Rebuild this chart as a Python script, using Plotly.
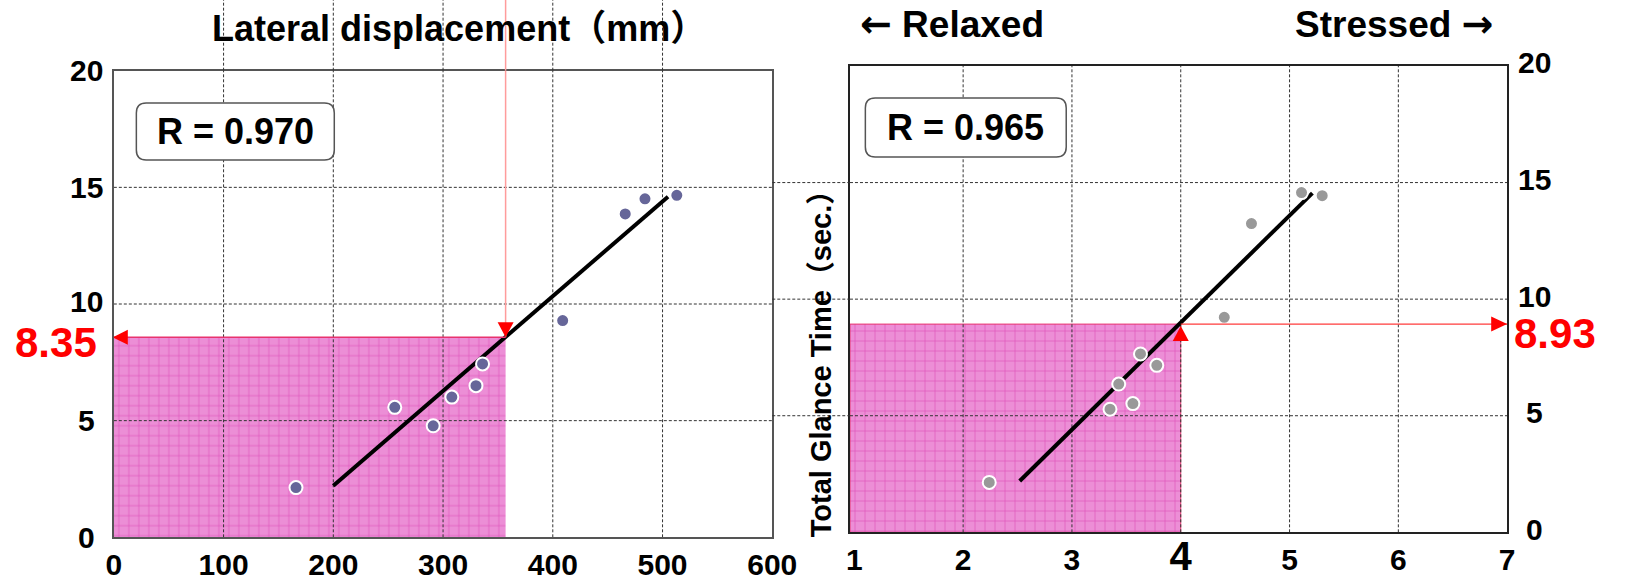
import plotly.graph_objects as go

W, H = 1637, 583

# ---------------- data ----------------
# left panel: lateral displacement vs total glance time
lat_disp = [166, 256, 291, 308, 330, 336, 409, 466, 484, 513]
lat_glance = [2.13, 5.57, 4.78, 6.01, 6.50, 7.43, 9.29, 13.86, 14.51, 14.66]
lat_fit_x = [200, 505]
lat_fit_y = [2.21, 14.60]
lat_thr_x = 357
lat_thr_y = 8.57
lat_thr_label = "8.35"
lat_r = "R = 0.970"

# right panel: stress rating vs total glance time
stress = [2.24, 3.35, 3.43, 3.56, 3.63, 3.78, 4.40, 4.65, 5.11, 5.30]
stress_glance = [2.14, 5.28, 6.36, 5.52, 7.65, 7.16, 9.22, 13.24, 14.57, 14.44]
stress_fit_x = [2.52, 5.21]
stress_fit_y = [2.20, 14.55]
stress_thr_x = 4
stress_thr_y = 8.93
stress_thr_label = "8.93"
stress_r = "R = 0.965"

lat_xticks = [0, 100, 200, 300, 400, 500, 600]
stress_xticks = [1, 2, 3, 4, 5, 6, 7]
y_ticks = [0, 5, 10, 15, 20]
lat_grid_x = [100, 200, 300, 400, 500]
stress_grid_x = [2, 3, 4, 5, 6]
grid_y = [5, 10, 15]

title_left = "Lateral displacement（mm）"
label_relaxed = ("←", "Relaxed")
label_stressed = ("Stressed", "→")
y_title = "Total Glance Time（sec.）"

# ---------------- helpers ----------------
FONT = "Liberation Sans, Arial, Noto Sans CJK JP, sans-serif"
ARROW_SPAN = '<span style="font-family:DejaVu Sans;font-size:38px">{}</span>'


def px(x):
    return x / W


def py(y):
    return 1 - y / H


def rounded_rect(x0, y0, x1, y1, r):
    pts = [
        ("M", [(x0 + r, y0)]), ("L", [(x1 - r, y0)]), ("Q", [(x1, y0), (x1, y0 + r)]),
        ("L", [(x1, y1 - r)]), ("Q", [(x1, y1), (x1 - r, y1)]), ("L", [(x0 + r, y1)]),
        ("Q", [(x0, y1), (x0, y1 - r)]), ("L", [(x0, y0 + r)]), ("Q", [(x0, y0), (x0 + r, y0)]),
    ]
    s = ""
    for cmd, ps in pts:
        s += cmd + " " + " ".join(f"{px(a):.5f},{py(b):.5f}" for a, b in ps) + " "
    return s + "Z"


def seg_lines(vals, lo, hi, vertical):
    xs, ys = [], []
    for v in vals:
        if vertical:
            xs += [v, v, None]
            ys += [lo, hi, None]
        else:
            xs += [lo, hi, None]
            ys += [v, v, None]
    return xs, ys


L_dom_x = [px(108), px(780)]
L_dom_y = [py(537.3), py(70.7)]
R_dom_x = [px(859.3), px(1530)]
R_dom_y = [py(532.3), py(66)]

GRID = dict(color="#333333", width=1, dash="3px,2px")
PINK_BG = "#ec8ed6"
PINK_FG = "#d0129c"

fig = go.Figure()

# ---------- left panel ----------
fig.add_trace(go.Scatter(
    x=[0, lat_thr_x, lat_thr_x, 0, 0], y=[0, 0, lat_thr_y, lat_thr_y, 0],
    fill="toself", mode="lines", line=dict(width=0), fillcolor=PINK_BG,
    fillpattern=dict(shape="+", fgcolor=PINK_FG, bgcolor=PINK_BG, size=10, solidity=0.12),
    xaxis="x", yaxis="y", hoverinfo="skip", showlegend=False))
gx, gy = seg_lines(lat_grid_x, 0, 20, True)
fig.add_trace(go.Scatter(x=gx, y=gy, mode="lines", line=GRID, xaxis="x", yaxis="y",
                         hoverinfo="skip", showlegend=False))
gx, gy = seg_lines(grid_y, 0, 600, False)
fig.add_trace(go.Scatter(x=gx, y=gy, mode="lines", line=GRID, xaxis="x", yaxis="y",
                         hoverinfo="skip", showlegend=False))
fig.add_trace(go.Scatter(x=lat_fit_x, y=lat_fit_y, mode="lines",
                         line=dict(color="black", width=4), xaxis="x", yaxis="y",
                         showlegend=False))
fig.add_trace(go.Scatter(x=lat_disp, y=lat_glance, mode="markers",
                         marker=dict(size=13, color="#666699", line=dict(color="white", width=2)),
                         xaxis="x", yaxis="y", showlegend=False))

# ---------- right panel ----------
fig.add_trace(go.Scatter(
    x=[0.96, stress_thr_x, stress_thr_x, 0.96, 0.96], y=[0, 0, stress_thr_y, stress_thr_y, 0],
    fill="toself", mode="lines", line=dict(width=1, color="#e8336e"), fillcolor=PINK_BG,
    fillpattern=dict(shape="+", fgcolor=PINK_FG, bgcolor=PINK_BG, size=10, solidity=0.12),
    xaxis="x2", yaxis="y2", hoverinfo="skip", showlegend=False))
gx, gy = seg_lines(stress_grid_x, 0, 20, True)
fig.add_trace(go.Scatter(x=gx, y=gy, mode="lines", line=GRID, xaxis="x2", yaxis="y2",
                         hoverinfo="skip", showlegend=False))
gx, gy = seg_lines(grid_y, 0.96, 7, False)
fig.add_trace(go.Scatter(x=gx, y=gy, mode="lines", line=GRID, xaxis="x2", yaxis="y2",
                         hoverinfo="skip", showlegend=False))
fig.add_trace(go.Scatter(x=stress_fit_x, y=stress_fit_y, mode="lines",
                         line=dict(color="black", width=4), xaxis="x2", yaxis="y2",
                         showlegend=False))
fig.add_trace(go.Scatter(x=stress, y=stress_glance, mode="markers",
                         marker=dict(size=13, color="#999999", line=dict(color="white", width=2)),
                         xaxis="x2", yaxis="y2", showlegend=False))

# ---------- shapes ----------
shapes = []
for g in lat_grid_x:  # left grid lines run up to the page top
    shapes.append(dict(type="line", xref="x", yref="paper", x0=g, x1=g, y0=L_dom_y[1], y1=1,
                       line=GRID, layer="above"))
for g in grid_y:  # right horizontal grid lines run left across the gap
    shapes.append(dict(type="line", xref="paper", yref="y2", x0=L_dom_x[1], x1=R_dom_x[0],
                       y0=g, y1=g, line=GRID, layer="above"))
# left red guides
shapes.append(dict(type="line", xref="x", yref="y", x0=lat_thr_x, x1=lat_thr_x,
                   y0=lat_thr_y, y1=20, line=dict(color="#ff9c9c", width=1.5)))
shapes.append(dict(type="line", xref="x", yref="paper", x0=lat_thr_x, x1=lat_thr_x,
                   y0=L_dom_y[1], y1=1, line=dict(color="#ff9c9c", width=1.5)))
shapes.append(dict(type="line", xref="x", yref="y", x0=0, x1=lat_thr_x,
                   y0=lat_thr_y, y1=lat_thr_y, line=dict(color="#e8336e", width=1.5)))
# right red guide
shapes.append(dict(type="line", xref="x2", yref="y2", x0=stress_thr_x, x1=7,
                   y0=stress_thr_y, y1=stress_thr_y, line=dict(color="#ff3b3b", width=1.2)))
# arrow heads (pixel-sized, anchored at data points)
RED = "#ff0000"
shapes.append(dict(type="path", xref="x", yref="y", xsizemode="pixel", ysizemode="pixel",
                   xanchor=lat_thr_x, yanchor=lat_thr_y, path="M0,0 L-8,15 L8,15 Z",
                   fillcolor=RED, line=dict(width=0)))
shapes.append(dict(type="path", xref="x", yref="y", xsizemode="pixel", ysizemode="pixel",
                   xanchor=0, yanchor=lat_thr_y, path="M-1,0 L14,7.5 L14,-7.5 Z",
                   fillcolor=RED, line=dict(width=0)))
shapes.append(dict(type="path", xref="x2", yref="y2", xsizemode="pixel", ysizemode="pixel",
                   xanchor=stress_thr_x, yanchor=stress_thr_y, path="M0,-2 L-8,-17 L8,-17 Z",
                   fillcolor=RED, line=dict(width=0)))
shapes.append(dict(type="path", xref="x2", yref="y2", xsizemode="pixel", ysizemode="pixel",
                   xanchor=7, yanchor=stress_thr_y, path="M0,0 L-16,7.5 L-16,-7.5 Z",
                   fillcolor=RED, line=dict(width=0)))
# R boxes
shapes.append(dict(type="path", xref="paper", yref="paper", path=rounded_rect(131, 103, 333, 160, 10),
                   fillcolor="white", line=dict(color="#555555", width=1.5), layer="above"))
shapes.append(dict(type="path", xref="paper", yref="paper", path=rounded_rect(875, 98, 1080, 157, 10),
                   fillcolor="white", line=dict(color="#555555", width=1.5), layer="above"))


# ---------- annotations ----------
def bold(size, color="black"):
    return dict(family=FONT, size=size, color=color, weight="bold")


ann = []
for v in y_ticks:
    ann.append(dict(x=px(80), xref="paper", y=v, yref="y", text=str(v), showarrow=False,
                    xanchor="center", yanchor="middle", yshift=3 if v == 10 else 0,
                    font=bold(30)))
    ann.append(dict(x=px(1558), xref="paper", y=v, yref="y2", text=str(v), showarrow=False,
                    xanchor="center", yanchor="middle", yshift=3, font=bold(30)))
ann.append(dict(x=px(460), y=py(28.5), xref="paper", yref="paper", text=title_left,
                showarrow=False, xanchor="center", yanchor="middle", font=bold(36)))
ann.append(dict(x=px(867), y=1, xref="paper", yref="paper",
                text=ARROW_SPAN.format(label_relaxed[0]) + " " + label_relaxed[1],
                showarrow=False, xanchor="left", yanchor="top", font=bold(37)))
ann.append(dict(x=px(1518), y=1, xref="paper", yref="paper",
                text=label_stressed[0] + " " + ARROW_SPAN.format(label_stressed[1]),
                showarrow=False, xanchor="right", yanchor="top", font=bold(37)))
ann.append(dict(x=px(830), y=py(356), xref="paper", yref="paper", text=y_title, textangle=-90,
                showarrow=False, xanchor="center", yanchor="middle", font=bold(29)))
ann.append(dict(x=px(232), y=py(131.5), xref="paper", yref="paper", text=lat_r,
                showarrow=False, xanchor="center", yanchor="middle", font=bold(36)))
ann.append(dict(x=px(977.5), y=py(127.5), xref="paper", yref="paper", text=stress_r,
                showarrow=False, xanchor="center", yanchor="middle", font=bold(36)))
ann.append(dict(x=px(49), xref="paper", y=lat_thr_y, yref="y", text=lat_thr_label,
                showarrow=False, xanchor="center", yanchor="middle", yshift=-5,
                font=bold(42, RED)))
ann.append(dict(x=px(1579), xref="paper", y=stress_thr_y, yref="y2", text=stress_thr_label,
                showarrow=False, xanchor="center", yanchor="middle", yshift=-9,
                font=bold(42, RED)))

stress_ticktext = [f'<span style="font-size:40px">{t}</span>' if t == stress_thr_x else str(t)
                   for t in stress_xticks]

axis_common = dict(showgrid=False, zeroline=False, showline=True, mirror=True, ticks="",
                   tickfont=bold(30), fixedrange=True)

fig.update_layout(
    autosize=True,
    margin=dict(l=0, r=0, t=0, b=0, pad=0),
    paper_bgcolor="white", plot_bgcolor="white",
    showlegend=False,
    xaxis=dict(domain=L_dom_x, anchor="y", range=[0, 600], tickvals=lat_xticks,
               ticktext=[str(t) for t in lat_xticks], linecolor="#555555", linewidth=2,
               **axis_common),
    yaxis=dict(domain=L_dom_y, anchor="x", range=[0, 20], showticklabels=False,
               linecolor="#555555", linewidth=2, **axis_common),
    xaxis2=dict(domain=R_dom_x, anchor="y2", range=[0.96, 7], tickvals=stress_xticks,
                ticktext=stress_ticktext, linecolor="#222222", linewidth=1.5, **axis_common),
    yaxis2=dict(domain=R_dom_y, anchor="x2", range=[0, 20], showticklabels=False,
                linecolor="#222222", linewidth=1.5, **axis_common),
    shapes=shapes,
    annotations=ann,
)

# the figure fills the whole browser viewport, pinned to its top-left corner
fig.write_html(
    "out.html", include_plotlyjs=True,
    config={"displayModeBar": False, "responsive": False},
    default_width="100vw;position:fixed;left:0;top:0;margin:0",
    default_height="100vh",
    post_script="document.body.style.margin='0';document.body.style.overflow='hidden';",
)
